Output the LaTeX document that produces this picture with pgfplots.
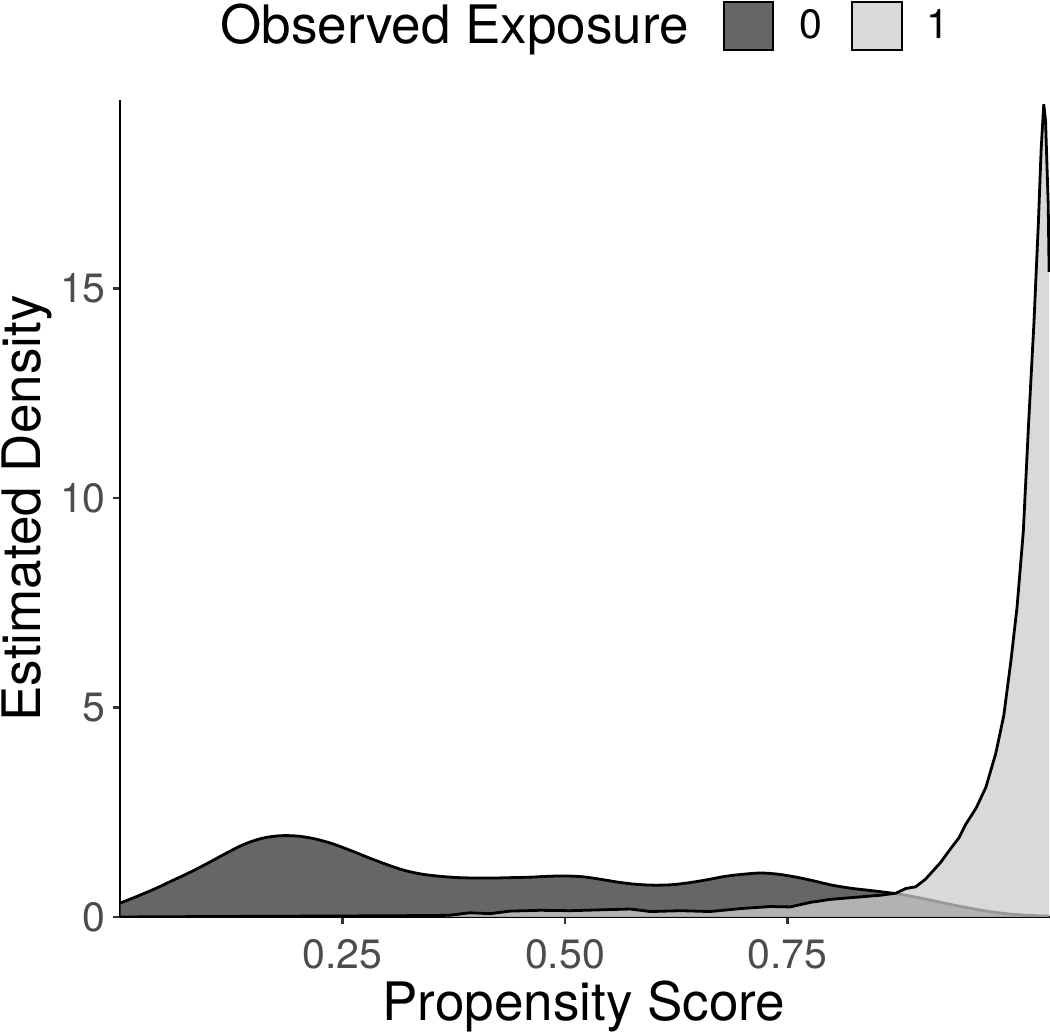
\documentclass[border=0pt]{standalone}
\usepackage{pgfplots}
\pgfplotsset{compat=1.18}
\usepackage{fontspec}
\setmainfont{TeX Gyre Heros}
\setsansfont{TeX Gyre Heros}
\definecolor{grpA}{gray}{0.2}
\definecolor{grpB}{gray}{0.8}
\definecolor{keyA}{gray}{0.4}
\definecolor{keyB}{gray}{0.85}
\definecolor{tickgrey}{gray}{0.30}
\pgfplotstableread{
x y
0.000 0.33
0.02 0.50
0.04 0.68
0.06 0.88
0.08 1.08
0.10 1.30
0.12 1.53
0.14 1.74
0.16 1.88
0.18 1.94
0.20 1.93
0.22 1.86
0.24 1.74
0.26 1.58
0.28 1.41
0.30 1.25
0.32 1.11
0.34 1.02
0.36 0.97
0.38 0.94
0.40 0.93
0.42 0.93
0.44 0.94
0.46 0.95
0.48 0.97
0.50 0.98
0.52 0.96
0.54 0.90
0.56 0.83
0.58 0.78
0.60 0.76
0.62 0.77
0.64 0.82
0.66 0.89
0.68 0.97
0.70 1.02
0.72 1.05
0.74 1.02
0.76 0.95
0.78 0.86
0.80 0.76
0.82 0.69
0.84 0.64
0.86 0.59
0.88 0.53
0.90 0.45
0.92 0.36
0.94 0.27
0.96 0.19
0.98 0.12
1.00 0.07
1.02 0.04
1.044 0.02
}\groupzero
\pgfplotstableread{
x y
0.000 0.00
0.09 0.01
0.20 0.02
0.31 0.03
0.37 0.04
0.393 0.10
0.416 0.08
0.438 0.14
0.472 0.16
0.506 0.15
0.539 0.17
0.573 0.19
0.596 0.13
0.630 0.15
0.663 0.13
0.697 0.20
0.731 0.25
0.753 0.24
0.776 0.35
0.798 0.42
0.832 0.48
0.855 0.52
0.872 0.57
0.883 0.68
0.894 0.72
0.905 0.90
0.922 1.30
0.934 1.65
0.943 1.90
0.950 2.20
0.962 2.60
0.973 3.10
0.984 3.90
0.993 4.80
1.001 6.10
1.008 7.40
1.015 9.20
1.021 11.8
1.027 14.2
1.032 16.6
1.035 18.3
1.038 19.4
1.040 19.0
1.043 17.0
1.044 15.4
}\groupone
\begin{document}
\begin{tikzpicture}
\useasboundingbox (0,0) rectangle (525pt,516pt);
\begin{axis}[
  at={(60pt,57.5pt)}, anchor=south west,
  scale only axis, width=465pt, height=408.5pt,
  xmin=0, xmax=1.045, ymin=0, ymax=19.5,
  axis x line*=bottom, axis y line*=left,
  axis line style={line width=1.1pt, black, -},
  xtick={0.25,0.5,0.75}, xticklabels={0.25,0.50,0.75},
  ytick={0,5,10,15}, yticklabels={0,5,10,15},
  tick align=outside, major tick length=3.6pt,
  tick style={line width=1.1pt, black!80},
  /pgf/number format/assume math mode=true,
  ticklabel style={font=\fontsize{20.5}{24}\selectfont, text=tickgrey},
  xticklabel style={anchor=base, yshift=-22pt},
  yticklabel style={anchor=east},
]
\addplot[draw=none, fill=grpA, fill opacity=0.75] table {\groupzero} \closedcycle;
\addplot[black, line width=1.4pt, smooth, tension=0.5] table {\groupzero};
\addplot[draw=none, fill=grpB, fill opacity=0.75] table {\groupone} \closedcycle;
\addplot[black, line width=1.4pt] table {\groupone};
\end{axis}
% axis titles
\node[anchor=base, inner sep=0, font=\fontsize{26.5}{32}\selectfont] at (292pt,5.5pt) {Propensity Score};
\node[anchor=base, inner sep=0, rotate=90, font=\fontsize{26.5}{32}\selectfont] at (20.5pt,261.75pt) {Estimated Density};
% legend
\node[anchor=base west, inner sep=0, font=\fontsize{26.5}{32}\selectfont] at (110pt,494pt) {Observed Exposure};
\draw[line width=1.1pt, fill=keyA] (362pt,491pt) rectangle (386.5pt,515pt);
\node[anchor=base, inner sep=0, font=\fontsize{20.5}{24}\selectfont] at (405.5pt,496.5pt) {0};
\draw[line width=1.1pt, fill=keyB] (426pt,491pt) rectangle (451pt,515pt);
\node[anchor=base, inner sep=0, font=\fontsize{20.5}{24}\selectfont] at (468.75pt,496.5pt) {1};
\end{tikzpicture}
\end{document}
